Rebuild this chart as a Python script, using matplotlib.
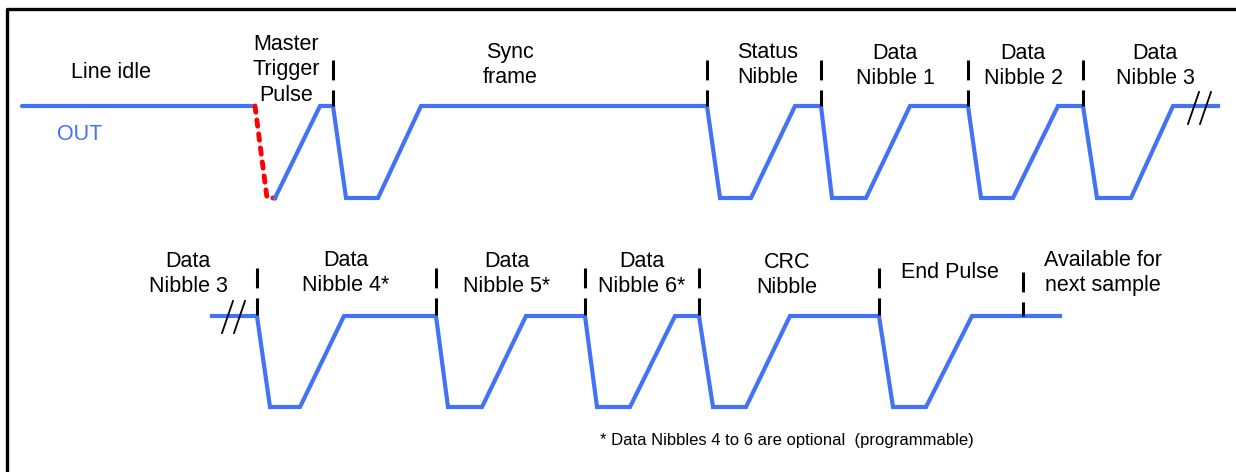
import matplotlib.pyplot as plt

# waveform corner times (pixels along the row) and logic levels
idle_t = [22, 252]
idle_lvl = [1, 1]
trigger_t = [255, 267, 275]      # red dashed master trigger edge
trigger_lvl = [1, 0, 0]
top_t = [275, 320, 333, 346, 378, 421, 707, 720, 751, 795, 821, 832, 866, 910,
         968, 981, 1013, 1058, 1083, 1097, 1131, 1173, 1218]
top_lvl = [0, 1, 1, 0, 0, 1, 1, 0, 0, 1, 1, 0, 0, 1, 1, 0, 0, 1, 1, 0, 0, 1, 1]

bot_t = [212, 257, 270, 300, 344, 436, 448, 482, 526, 585, 597, 630, 675, 699, 713, 746,
         790, 879, 893, 926, 972, 1060]
bot_lvl = [1, 1, 0, 0, 1, 1, 0, 0, 1, 1, 0, 0, 1, 1, 0, 0, 1, 1, 0, 0, 1, 1]

top_marks = [333, 707, 821, 968, 1083]
bot_marks = [257, 436, 585, 699, 879]
avail_mark = 1023

top_labels = ["Master\nTrigger\nPulse", "Sync\nframe", "Status\nNibble",
              "Data\nNibble 1", "Data\nNibble 2", "Data\nNibble 3"]
top_label_x = [286, 510, 768, 895, 1023, 1155]
top_label_y = [70, 65, 65, 66, 66, 66]

bot_labels = ["Data\nNibble 3", "Data\nNibble 4*", "Data\nNibble 5*", "Data\nNibble 6*",
              "CRC\nNibble", "End Pulse", "Available for\nnext sample"]
bot_label_x = [188, 346, 507, 642, 787, 950, 1103]
bot_label_y = [274, 273, 274, 274, 275, 273, 273]

footnote = "* Data Nibbles 4 to 6 are optional  (programmable)"

BLUE = '#4373f5'
TOP_HI, TOP_LO = 106, 198
BOT_HI, BOT_LO = 316, 407
FS = 15.5


def to_y(levels, hi, lo):
    return [lo + v * (hi - lo) for v in levels]


plt.rcParams['font.family'] = ['Liberation Sans', 'DejaVu Sans']
fig = plt.figure(figsize=(12.36, 4.72), dpi=100)
ax = fig.add_axes([0, 0, 1, 1])
ax.set_xlim(0, 1236)
ax.set_ylim(472, 0)
ax.axis('off')

# frame (left and top edges only are visible)
ax.plot([7, 7, 1236], [472, 9, 9], color='black', lw=2.4, solid_capstyle='butt')

# waveforms
ax.plot(idle_t, to_y(idle_lvl, TOP_HI, TOP_LO), color=BLUE, lw=3, solid_capstyle='round')
ax.plot(trigger_t, to_y(trigger_lvl, TOP_HI, TOP_LO), color='#ff0000', lw=3.5,
        linestyle=(0, (1.3, 1.6)), dash_capstyle='round')
ax.plot(top_t, to_y(top_lvl, TOP_HI, TOP_LO), color=BLUE, lw=3, solid_joinstyle='miter')
ax.plot(bot_t, to_y(bot_lvl, BOT_HI, BOT_LO), color=BLUE, lw=3, solid_joinstyle='miter')

# break marks "//"
for x0 in [1188, 1200]:
    ax.plot([x0, x0 + 11], [124, 92], color='black', lw=1.3)
for x0 in [222, 234]:
    ax.plot([x0, x0 + 11], [333, 301], color='black', lw=1.3)

# dashed boundary markers
dash = (0, (6.5, 3.3))
for x in top_marks:
    ax.plot([x, x], [60, 106], color='black', lw=2.2, linestyle=dash)
for x in bot_marks:
    ax.plot([x, x], [268, 315], color='black', lw=2.2, linestyle=dash)
ax.plot([avail_mark, avail_mark], [272, 316], color='black', lw=2.2, linestyle=dash)

# labels
ax.text(111, 72, "Line idle", ha='center', va='center', fontsize=FS)
ax.text(80, 135, "OUT", ha='center', va='center', fontsize=FS, color=BLUE)
for s, x, y in zip(top_labels, top_label_x, top_label_y):
    ax.text(x, y, s, ha='center', va='center', fontsize=FS, linespacing=1.27)
for s, x, y in zip(bot_labels, bot_label_x, bot_label_y):
    ax.text(x, y, s, ha='center', va='center', fontsize=FS, linespacing=1.22)

ax.text(600, 440, footnote, ha='left', va='center', fontsize=12)

fig.savefig('out.png', dpi=100)
